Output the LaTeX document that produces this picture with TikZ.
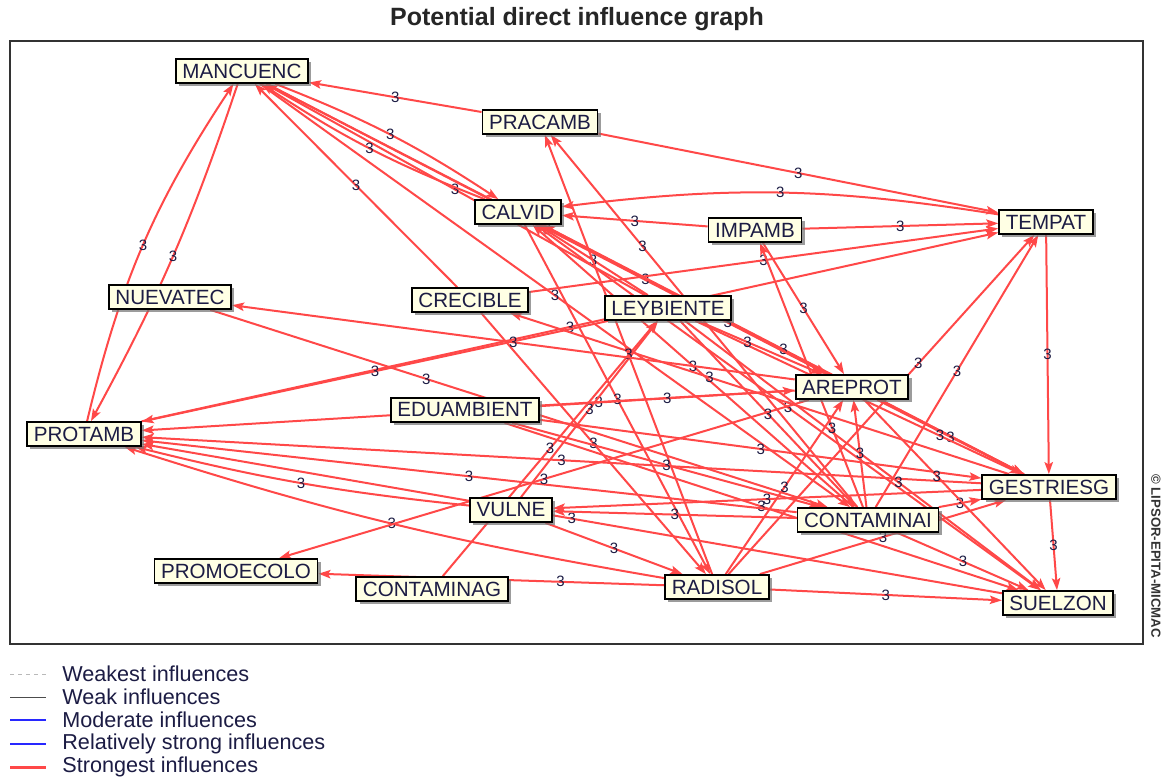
\documentclass[tikz,border=0pt]{standalone}
\usepackage{fontspec}
\setmainfont{Liberation Sans}
\usetikzlibrary{arrows.meta,shadows,backgrounds}
\definecolor{mred}{RGB}{255,72,72}
\definecolor{mink}{HTML}{1C1C44}
\definecolor{mcream}{HTML}{FFFFE4}
\definecolor{mblue}{RGB}{40,40,255}
\tikzset{
  var/.style={draw=black,fill=mcream,line width=0.9pt,text=mink,font=\fontsize{10.3}{12}\selectfont,inner xsep=3.3pt,inner ysep=1pt,minimum height=12pt,drop shadow={shadow xshift=1.6pt,shadow yshift=-1.6pt,fill=black!55,opacity=.7}},
  infl/.style={-{Stealth[length=6pt,width=4.2pt,inset=1.2pt]},line width=1pt,draw=mred},
  num/.style={font=\fontsize{7.5}{8}\selectfont,text=mink,inner sep=1pt},
  leg/.style={font=\fontsize{10.8}{12}\selectfont,text=mink,anchor=west,inner sep=0pt},
}
\begin{document}
\begin{tikzpicture}[x=0.5pt,y=-0.5pt]
  \useasboundingbox (0,0) rectangle (1163,778);
  \node[font=\bfseries\fontsize{12.5}{15}\selectfont,text=black!85] (title) at (577,19) {Potential direct influence graph};
  \node[rotate=-90,font=\bfseries\fontsize{6.6}{8}\selectfont,text=black!80] (copy) at (1156,556) {© LIPSOR-EPITA-MICMAC};
  % variables
  \node[var] (manc) at (242,71) {MANCUENC};
  \node[var] (prac) at (540,122) {PRACAMB};
  \node[var] (calv) at (518,212) {CALVID};
  \node[var] (impa) at (755,230) {IMPAMB};
  \node[var] (temp) at (1046,222) {TEMPAT};
  \node[var] (nuev) at (170,297) {NUEVATEC};
  \node[var] (crec) at (470,300) {CRECIBLE};
  \node[var] (leyb) at (668,308) {LEYBIENTE};
  \node[var] (arep) at (852,387) {AREPROT};
  \node[var] (edua) at (465,410) {EDUAMBIENT};
  \node[var] (prot) at (84,434) {PROTAMB};
  \node[var] (gest) at (1049,487) {GESTRIESG};
  \node[var] (vuln) at (511,510) {VULNE};
  \node[var] (coni) at (868,520) {CONTAMINAI};
  \node[var] (prom) at (236,571) {PROMOECOLO};
  \node[var] (cong) at (432,589) {CONTAMINAG};
  \node[var] (radi) at (717,587) {RADISOL};
  \node[var] (suel) at (1058,603) {SUELZON};
  \begin{scope}[on background layer]
  \fill[white] (0,0) rectangle (1163,778);
  \draw[black!80,line width=0.8pt] (10,41) rectangle (1143,644);
  % strongest influences
  \draw[infl] (prot) to[bend left=10] node[num]{3} (manc); \draw[infl] (manc) to[bend left=5] node[num]{3} (prot);
  \draw[infl] (prac)--node[num]{3}(manc); \draw[infl] (crec)--node[num]{3}(manc); \draw[infl] (leyb)--node[num]{3}(manc);
  \draw[infl] (manc) to[bend left=6] node[num]{3} (calv); \draw[infl] (calv) to[bend left=6] node[num]{3} (manc);
  \draw[infl] (manc)--node[num]{3}(arep); \draw[infl] (manc)--node[num]{3}(gest); \draw[infl] (manc)--node[num]{3}(coni);
  \draw[infl] (prac)--node[num]{3}(temp); \draw[infl] (temp) to[bend right=8] node[num]{3} (calv);
  \draw[infl] (impa)--node[num]{3}(temp); \draw[infl] (crec)--node[num]{3}(temp); \draw[infl] (prot)--node[num]{3}(temp);
  \draw[infl] (radi)--node[num,pos=.62]{3}(temp); \draw[infl] (coni)--node[num]{3}(temp); \draw[infl] (temp)--node[num]{3}(gest);
  \draw[infl] (impa)--node[num]{3}(calv); \draw[infl] (gest)--node[num]{3}(calv); \draw[infl] (coni)--node[num]{3}(calv);
  \draw[infl] (leyb)--node[num]{3}(calv); \draw[infl] (calv)--node[num,pos=.65]{3}(arep); \draw[infl] (calv)--node[num]{3}(radi);
  \draw[infl] (calv)--node[num]{3}(suel);
  \draw[infl] (gest)--node[num]{3}(suel); \draw[infl] (radi)--node[num]{3}(gest); \draw[infl] (coni)--node[num]{3}(gest);
  \draw[infl] (edua)--node[num]{3}(gest); \draw[infl] (arep)--node[num]{3}(gest); \draw[infl] (leyb)--node[num,pos=.75]{3}(gest);
  \draw[infl] (gest)--node[num]{3}(prot); \draw[infl] (gest)--node[num]{3}(vuln); \draw[infl] (gest)--node[num,pos=.6]{3}(crec);
  \draw[infl] (radi)--node[num]{3}(suel); \draw[infl] (arep)--node[num,pos=.4]{3}(suel); \draw[infl] (leyb)--node[num,pos=.6]{3}(suel);
  \draw[infl] (coni)--node[num]{3}(suel); \draw[infl] (edua)--node[num]{3}(suel); \draw[infl] (suel)--node[num]{3}(prot);
  \draw[infl] (arep)--node[num,pos=.3]{3}(prot); \draw[infl] (coni)--node[num]{3}(prot); \draw[infl] (radi) to[bend left=4] node[num]{3} (prot);
  \draw[infl] (leyb)--node[num]{3}(prot); \draw[infl] (vuln) to[bend left=4] node[num]{3} (prot);
  \draw[infl] (coni)--node[num]{3}(vuln); \draw[infl] (vuln)--node[num]{3}(radi); \draw[infl] (vuln)--node[num]{3}(leyb);
  \draw[infl] (cong)--node[num]{3}(leyb); \draw[infl] (arep)--node[num]{3}(prom); \draw[infl] (radi)--node[num,pos=.3]{3}(prom);
  \draw[infl] (crec)--node[num]{3}(radi); \draw[infl] (radi)--node[num]{3}(prac); \draw[infl] (coni)--node[num,pos=.7]{3}(prac);
  \draw[infl] (coni)--node[num,pos=.3]{3}(impa); \draw[infl] (impa)--node[num]{3}(arep); \draw[infl] (arep)--node[num]{3}(nuev);
  \draw[infl] (nuev)--node[num,pos=.35]{3}(coni); \draw[infl] (radi)--node[num]{3}(arep); \draw[infl] (edua)--node[num]{3}(arep);
  \draw[infl] (leyb)--node[num,pos=.4]{3}(arep); \draw[infl] (leyb)--node[num]{3}(coni); \draw[infl] (edua)--node[num]{3}(coni);
  \draw[infl] (coni)--node[num]{3}(arep);
  \end{scope}
  % legend
  \draw[gray!55,line width=0.5pt,dash pattern=on 2pt off 2pt] (10,674)--(46,674);
  \draw[black!70,line width=0.5pt] (10,697)--(46,697);
  \draw[mblue,line width=0.6pt] (10,720)--(46,720);
  \draw[mblue,line width=1.3pt] (10,744)--(46,744);
  \draw[mred,line width=1.5pt] (10,767)--(46,767);
  \node[leg] (l1) at (62,674) {Weakest influences};
  \node[leg] (l2) at (62,697) {Weak influences};
  \node[leg] (l3) at (62,720) {Moderate influences};
  \node[leg] (l4) at (62,744) {Relatively strong influences};
  \node[leg] (l5) at (62,767) {Strongest influences};
\end{tikzpicture}
\end{document}
